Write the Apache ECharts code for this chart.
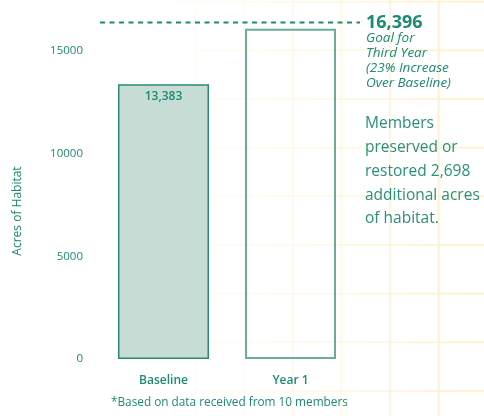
<!DOCTYPE html>
<html>
<head>
<meta charset="utf-8">
<script src="https://cdn.jsdelivr.net/npm/echarts@6/dist/echarts.min.js"></script>
<style>
  html, body { margin: 0; padding: 0; background: #ffffff; }
  #chart { width: 484px; height: 416px; }
</style>
</head>
<body>
<div id="chart"></div>
<script>
// Habitat acreage: baseline vs. first year, with the third-year goal
const categories = ['Baseline', 'Year 1'];
const acres = [13383, 16081];
const goalAcres = 16396;
const yTicks = [0, 5000, 10000, 15000];
const goalNote = ['Goal for', 'Third Year', '(23% Increase', 'Over Baseline)'];
const summaryLines = ['Members', 'preserved or', 'restored 2,698', 'additional acres', 'of habitat.'];
const axisTitle = 'Acres of Habitat';
const footnote = '*Based on data received from 10 members';

const TEAL = '#1d8a72';
const TEAL_SOFT = '#2a9079';
const FONT = '"Open Sans", "Noto Sans", sans-serif';

const chart = echarts.init(document.getElementById('chart'), null, { renderer: 'canvas' });

chart.setOption({
  animation: false,
  textStyle: { fontFamily: FONT },
  grid: { left: 100, right: 130, top: 10, bottom: 57 },
  xAxis: {
    type: 'category',
    data: categories,
    axisLine: { show: false },
    axisTick: { show: false },
    axisLabel: { color: TEAL, fontSize: 12, fontWeight: 600, margin: 16, fontFamily: FONT }
  },
  yAxis: {
    type: 'value',
    min: 0,
    max: 17000,
    interval: 5000,
    splitLine: { show: false },
    axisLine: { show: false },
    axisTick: { show: false },
    axisLabel: {
      color: TEAL,
      fontSize: 11.5,
      margin: 17,
      fontFamily: FONT,
      showMaxLabel: false,
      formatter: v => (yTicks.indexOf(v) >= 0 ? String(v) : '')
    }
  },
  series: [{
    type: 'bar',
    barWidth: 91,
    z: 5,
    data: acres.map((v, i) => ({
      value: v,
      itemStyle: i === 0
        ? { color: '#c6dcd5', borderColor: '#2b8a76', borderWidth: 1.5 }
        : { color: 'rgba(255,255,255,0)', borderColor: '#6aad9d', borderWidth: 2 },
      label: i === 0
        ? {
            show: true,
            position: 'insideTop',
            distance: 6,
            color: TEAL,
            fontSize: 12,
            fontWeight: 600,
            fontFamily: FONT,
            formatter: p => p.value.toLocaleString('en-US')
          }
        : { show: false }
    }))
  }]
});

// Annotations placed against the value axis
const goalY = chart.convertToPixel({ yAxisIndex: 0 }, goalAcres);
const elements = [];

// faint paper grid, fading out toward the left
const step = 48.67;
for (let x = 390 - step * 6; x < 484; x += step) {
  const t = Math.max(0, Math.min(1, (x - 80) / 360));
  elements.push({
    type: 'line', silent: true, z: -10,
    shape: { x1: x, y1: 0, x2: x, y2: 416 },
    style: { stroke: '#fdf0c6', lineWidth: 2, opacity: 0.85 * Math.pow(t, 1.8) }
  });
}
for (let y = 245 - step * 5; y < 416; y += step) {
  elements.push({
    type: 'line', silent: true, z: -10,
    shape: { x1: 0, y1: y, x2: 484, y2: y },
    style: {
      lineWidth: 2,
      stroke: new echarts.graphic.LinearGradient(0, 0, 1, 0, [
        { offset: 0, color: 'rgba(253,240,198,0)' },
        { offset: 0.25, color: 'rgba(253,240,198,0.04)' },
        { offset: 0.65, color: 'rgba(253,240,198,0.35)' },
        { offset: 1, color: 'rgba(253,240,198,0.85)' }
      ])
    }
  });
}

// dashed goal line and its callout
elements.push({
  type: 'line', silent: true, z: 10,
  shape: { x1: 100, y1: goalY, x2: 360, y2: goalY },
  style: { stroke: TEAL, lineWidth: 2, lineDash: [5, 4.5] }
});
elements.push({
  type: 'text', z: 10,
  x: 366, y: goalY,
  style: {
    text: goalAcres.toLocaleString('en-US'),
    fill: TEAL, font: 'bold 18px ' + FONT,
    textVerticalAlign: 'middle', verticalAlign: 'middle'
  }
});
goalNote.forEach((line, i) => {
  elements.push({
    type: 'text', z: 10,
    x: 366, y: goalY + 15.5 + i * 15,
    style: {
      text: line, fill: TEAL, font: 'italic 13.5px ' + FONT,
      verticalAlign: 'middle', textVerticalAlign: 'middle'
    }
  });
});

// summary statement
summaryLines.forEach((line, i) => {
  elements.push({
    type: 'text', z: 10,
    x: 365, y: 124 + i * 23.7,
    style: {
      text: line, fill: TEAL_SOFT, font: '15.5px ' + FONT,
      verticalAlign: 'middle', textVerticalAlign: 'middle'
    }
  });
});

// value-axis title
elements.push({
  type: 'text', z: 10,
  x: 18, y: 211, rotation: Math.PI / 2,
  style: {
    text: axisTitle, fill: TEAL, font: '12px ' + FONT,
    align: 'center', textAlign: 'center',
    verticalAlign: 'middle', textVerticalAlign: 'middle'
  }
});

// footnote
elements.push({
  type: 'text', z: 10,
  x: 111, y: 403,
  style: {
    text: footnote, fill: TEAL, font: '11.8px ' + FONT,
    verticalAlign: 'middle', textVerticalAlign: 'middle'
  }
});

chart.setOption({ graphic: { elements: elements } });
</script>
</body>
</html>
